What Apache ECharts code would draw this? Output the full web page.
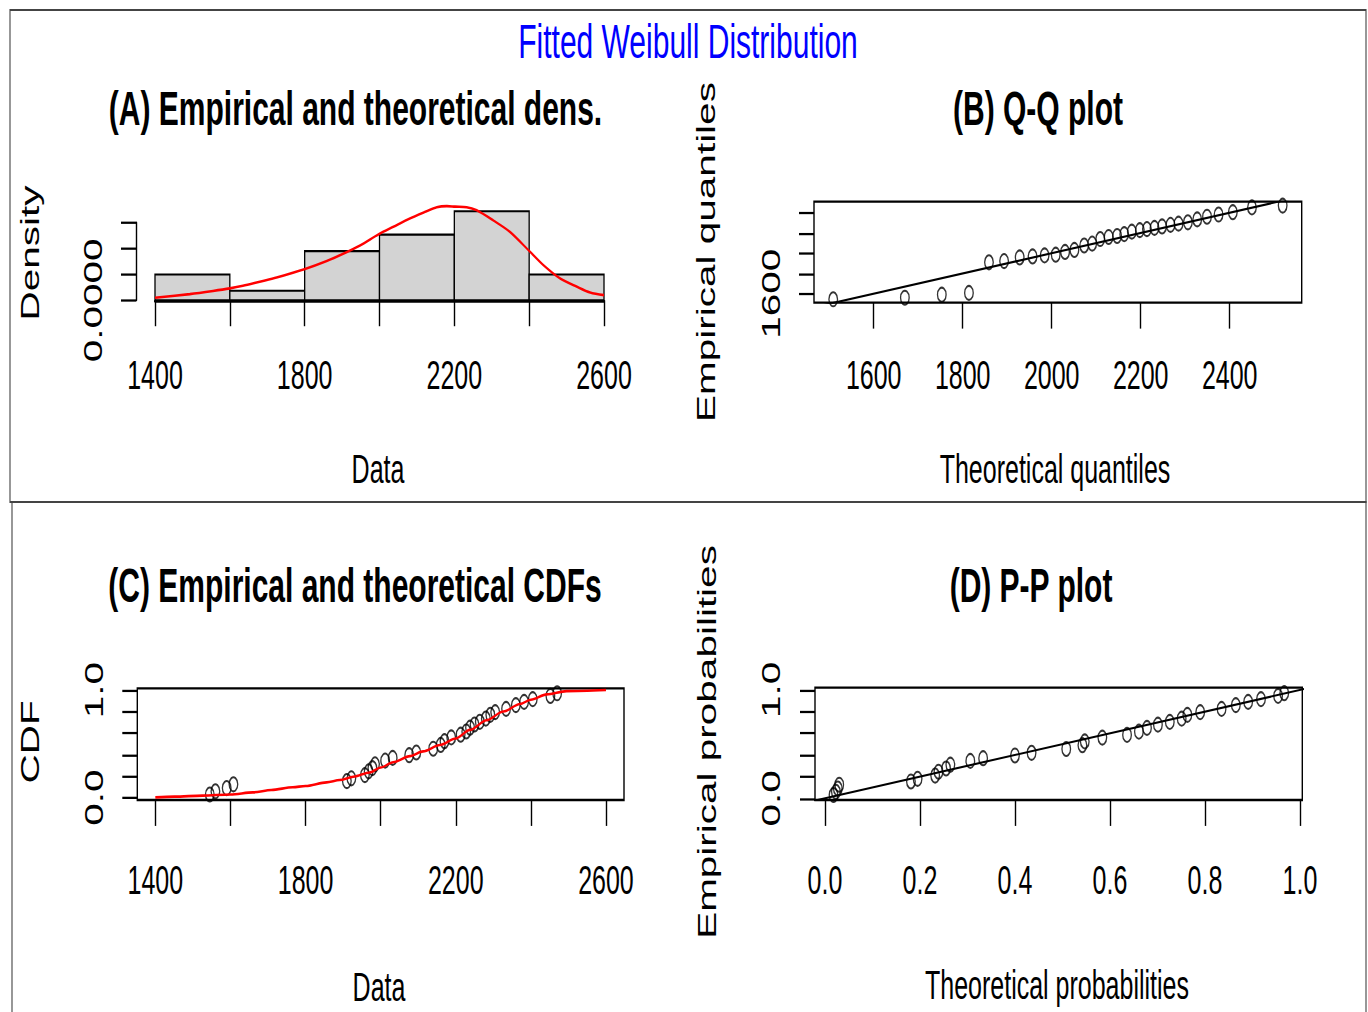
<!DOCTYPE html>
<html>
<head>
<meta charset="utf-8">
<script src="https://cdn.jsdelivr.net/npm/echarts@6/dist/echarts.min.js"></script>
<style>
html,body{margin:0;padding:0;background:#fff;overflow:hidden;}
#wrap{width:1368px;height:1012px;overflow:hidden;position:relative;}
#chart{width:1368px;height:625px;transform:scaleY(1.62);transform-origin:0 0;}
</style>
</head>
<body>
<div id="wrap"><div id="chart"></div></div>
<script>
// ---------------- data ----------------
// sorted observations (32)
const observed = [1545, 1560, 1590, 1608, 1910, 1922, 1958, 1968, 1978, 1985, 2012, 2032, 2076, 2095, 2140, 2160,
                  2170, 2188, 2213, 2228, 2238, 2250, 2264, 2280, 2292, 2305, 2334, 2360, 2382, 2405, 2452, 2470];
// theoretical Weibull quantiles (Q-Q plot x)
const qqTheoretical = [1509, 1670, 1753, 1814, 1859, 1893, 1928, 1957, 1984, 2009, 2030, 2051, 2073, 2091, 2109, 2128,
                       2147, 2163, 2180, 2198, 2214, 2231, 2248, 2267, 2285, 2306, 2327, 2349, 2375, 2407, 2450, 2519];
// empirical probabilities (CDF and P-P y)
const empiricalProb = [0.03, 0.06, 0.09, 0.125, 0.155, 0.18, 0.21, 0.245, 0.275, 0.31, 0.345, 0.37, 0.395, 0.42, 0.455, 0.49,
                       0.525, 0.56, 0.585, 0.615, 0.65, 0.68, 0.705, 0.735, 0.77, 0.795, 0.825, 0.86, 0.89, 0.915, 0.945, 0.97];
// theoretical probabilities (P-P x)
const ppTheoretical = [0.018, 0.023, 0.027, 0.030, 0.181, 0.195, 0.232, 0.239, 0.255, 0.264, 0.306, 0.333, 0.400, 0.435, 0.508, 0.542,
                       0.547, 0.584, 0.636, 0.661, 0.678, 0.701, 0.726, 0.751, 0.763, 0.790, 0.835, 0.865, 0.891, 0.918, 0.954, 0.967];
// histogram
const binEdges = [1400, 1600, 1800, 2000, 2200, 2400, 2600];
const binDensity = [0.0005, 0.000185, 0.00095, 0.00127, 0.00172, 0.0005];
// fitted density curve
const densX = [1400, 1493, 1555, 1600, 1635, 1680, 1725, 1799, 1859, 1903, 1948, 1999, 2037, 2081, 2126, 2153, 2180, 2202,
               2233, 2260, 2305, 2349, 2402, 2438, 2483, 2528, 2563, 2600];
const densY = [0.00005, 0.00012, 0.00018, 0.00023, 0.00028, 0.00036, 0.00044, 0.0006, 0.00076, 0.0009, 0.00106, 0.00128,
               0.00142, 0.00158, 0.00172, 0.0018, 0.00182, 0.00181, 0.0018, 0.00174, 0.00154, 0.00132, 0.00094, 0.00068,
               0.00042, 0.00026, 0.00015, 0.0001];
// fitted CDF curve
const cdfX = [1400, 1451, 1526, 1600, 1660, 1709, 1766, 1800, 1856, 1891, 1927, 1971, 2000, 2033, 2078, 2113, 2158, 2200,
              2238, 2282, 2327, 2371, 2400, 2442, 2495, 2600];
const cdfY = [0.003, 0.01, 0.02, 0.03, 0.05, 0.072, 0.097, 0.109, 0.143, 0.164, 0.195, 0.235, 0.28, 0.33, 0.386, 0.43, 0.49,
              0.55, 0.63, 0.72, 0.80, 0.87, 0.91, 0.96, 0.99, 1.0];
// reference lines
const qqLine = [1400, 2600];
const ppLine = [-0.1, 1.1];
// ticks and tick labels
const ticksData = [1400, 1600, 1800, 2000, 2200, 2400, 2600];
const labelsData = [1400, 1800, 2200, 2600];
const ticksDensity = [0, 0.0005, 0.001, 0.0015];
const labelsDensity = [0];
const ticksQQ = [1600, 1800, 2000, 2200, 2400];
const labelsQQx = [1600, 1800, 2000, 2200, 2400];
const labelsQQy = [1600];
const ticksProb = [0, 0.2, 0.4, 0.6, 0.8, 1.0];
const labelsProbY = [0, 1.0];
const labelsProbX = [0, 0.2, 0.4, 0.6, 0.8, 1.0];

// ---------------- layout ----------------
const S = 1.62;              // vertical stretch of the whole picture
const u = v => v / S;        // reference y -> unstretched y
const FONT = "'Liberation Sans', Arial, sans-serif";
const AX = 25;

function grid(l, r, t, b, show) {
  return {left: l, width: r - l, top: u(t), height: u(b) - u(t), show: !!show,
          borderColor: '#000', borderWidth: 1.4, backgroundColor: 'transparent', containLabel: false};
}
function xAxis(gi, min, max, ticks, labels, fmt, margin, line) {
  return {type: 'value', gridIndex: gi, min: min, max: max, splitLine: {show: false},
    axisLine: {show: !!line, onZero: false, lineStyle: {color: '#000', width: 1.8}},
    axisTick: {show: true, length: 16, customValues: ticks, lineStyle: {color: '#000', width: 1.4}},
    axisLabel: {customValues: labels, formatter: fmt, margin: margin, fontSize: AX, fontFamily: FONT, color: '#000'}};
}
function yAxis(gi, min, max, ticks, labels, fmt, margin, line, offset) {
  return {type: 'value', gridIndex: gi, min: min, max: max, splitLine: {show: false}, offset: offset || 0,
    axisLine: {show: !!line, onZero: false, lineStyle: {color: '#000', width: 1.4}},
    axisTick: {show: true, length: 15, customValues: ticks, lineStyle: {color: '#000', width: 1.4}},
    axisLabel: {customValues: labels, formatter: fmt, rotate: 90, margin: margin, fontSize: AX, fontFamily: FONT, color: '#000'}};
}
function txt(s, x, y, size, opts) {
  opts = opts || {};
  return {type: 'text', x: x, y: u(y), rotation: opts.rot ? Math.PI / 2 : 0, z: 100,
    style: {text: s, fontSize: size, fontFamily: FONT, fontWeight: opts.bold ? 'bold' : 'normal',
            fill: opts.color || '#000', align: 'center', verticalAlign: 'middle'}};
}
const pts = (xs, ys) => xs.map((x, i) => [x, ys[i]]);
const circleStyle = {color: 'rgba(0,0,0,0)', borderColor: '#000', borderWidth: 1.3};

const chart = echarts.init(document.getElementById('chart'), null, {renderer: 'svg', width: 1368, height: 625});
chart.setOption({
  animation: false,
  backgroundColor: '#fff',
  grid: [
    grid(155, 604, 222.7, 300.3, false),
    grid(814, 1301.7, 201.7, 302.7, true),
    grid(137.3, 624, 688.3, 800, true),
    grid(815, 1302.3, 687.7, 800, true)
  ],
  xAxis: [
    xAxis(0, 1400, 2600, ticksData, labelsData, v => String(v), 34, true),
    xAxis(1, 1465.8, 2561.8, ticksQQ, labelsQQx, v => String(v), 32, false),
    xAxis(2, 1352, 2648, ticksData, labelsData, v => String(v), 37, false),
    xAxis(3, -0.021, 1.005, ticksProb, labelsProbX, v => v.toFixed(1), 37, false)
  ],
  yAxis: [
    yAxis(0, 0, 0.0015, ticksDensity, labelsDensity, v => v.toFixed(4), 30, true, 19),
    yAxis(1, 1511, 2508.6, ticksQQ, labelsQQy, v => String(v), 30, false),
    yAxis(2, -0.021, 1.016, ticksProb, labelsProbY, v => v.toFixed(1), 30, false),
    yAxis(3, -0.016, 1.021, ticksProb, labelsProbY, v => v.toFixed(1), 31, false)
  ],
  series: [
    {type: 'custom', xAxisIndex: 0, yAxisIndex: 0, clip: false,
     data: binDensity.map((d, i) => [binEdges[i], binEdges[i + 1], d]),
     renderItem: function (params, api) {
       const p0 = api.coord([api.value(0), 0]);
       const p1 = api.coord([api.value(1), api.value(2)]);
       return {type: 'rect', shape: {x: p0[0], y: p1[1], width: p1[0] - p0[0], height: p0[1] - p1[1]},
               style: {fill: '#D3D3D3', stroke: '#000', lineWidth: 1.3}};
     }},
    {type: 'line', xAxisIndex: 0, yAxisIndex: 0, clip: false, data: pts(densX, densY), smooth: 0.3,
     showSymbol: false, lineStyle: {color: '#FF0000', width: 1.6}, z: 5},
    {type: 'scatter', xAxisIndex: 1, yAxisIndex: 1, data: pts(qqTheoretical, observed), symbol: 'circle',
     symbolSize: 8.6, itemStyle: circleStyle},
    {type: 'line', xAxisIndex: 1, yAxisIndex: 1, data: pts(qqLine, qqLine), clip: true, showSymbol: false,
     lineStyle: {color: '#000', width: 1.3}, z: 5},
    {type: 'scatter', xAxisIndex: 2, yAxisIndex: 2, data: pts(observed, empiricalProb), symbol: 'circle',
     symbolSize: 8.6, itemStyle: circleStyle},
    {type: 'line', xAxisIndex: 2, yAxisIndex: 2, data: pts(cdfX, cdfY), smooth: 0.3, smoothMonotone: 'x',
     showSymbol: false, lineStyle: {color: '#FF0000', width: 1.6}, z: 5},
    {type: 'scatter', xAxisIndex: 3, yAxisIndex: 3, data: pts(ppTheoretical, empiricalProb), symbol: 'circle',
     symbolSize: 8.6, itemStyle: circleStyle},
    {type: 'line', xAxisIndex: 3, yAxisIndex: 3, data: pts(ppLine, ppLine), clip: true, showSymbol: false,
     lineStyle: {color: '#000', width: 1.3}, z: 5}
  ],
  graphic: [
    {type: 'rect', shape: {x: 10, y: u(10), width: 1356, height: u(502) - u(10)}, style: {fill: 'none', stroke: '#444', lineWidth: 1.1}},
    {type: 'rect', shape: {x: 12, y: u(502), width: 1354, height: u(1030) - u(502)}, style: {fill: 'none', stroke: '#444', lineWidth: 1.1}},
    txt('Fitted Weibull Distribution', 688, 41, 30, {color: '#0000FF'}),
    txt('(A) Empirical and theoretical dens.', 355.5, 108, 30, {bold: true}),
    txt('(B) Q-Q plot', 1038, 108, 30, {bold: true}),
    txt('(C) Empirical and theoretical CDFs', 355, 585, 30, {bold: true}),
    txt('(D) P-P plot', 1031, 585, 30, {bold: true}),
    txt('Data', 378, 469, AX),
    txt('Theoretical quantiles', 1055, 469, AX),
    txt('Data', 379, 987, AX),
    txt('Theoretical probabilities', 1057, 985, AX),
    txt('Density', 30, 253, AX, {rot: true}),
    txt('Empirical quantiles', 706, 252, AX, {rot: true}),
    txt('CDF', 30, 742, AX, {rot: true}),
    txt('Empirical probabilities', 707, 742, AX, {rot: true})
  ]
});
</script>
</body>
</html>
